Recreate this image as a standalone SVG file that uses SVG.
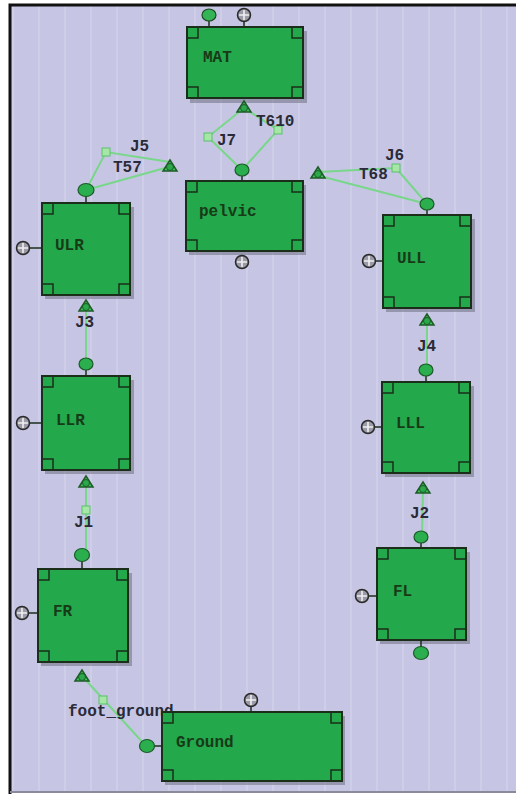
<svg xmlns="http://www.w3.org/2000/svg" width="516" height="794" viewBox="0 0 516 794">
<defs>
<pattern id="grid" x="0" y="0" width="26" height="794" patternUnits="userSpaceOnUse">
<rect x="0" y="0" width="26" height="794" fill="#c6c6e4"/>
<rect x="12" y="0" width="2" height="794" fill="#d2d2ec" opacity="0.7"/>
</pattern>
<g id="plus"><circle r="6.5" fill="#9a9aa8" stroke="#2a2a2a" stroke-width="1.5"/><path d="M-5 0H5M0 -5V5" stroke="#f0f0f0" stroke-width="1.6"/></g>
<g id="jg"><path d="M-7 5 L0 -6 L7 5 Z" fill="#3cc85a" stroke="#1e5a28" stroke-width="1.5"/><circle cy="1" r="3.5" fill="#2aa84a" stroke="#1e5a28"/></g>
</defs>
<style>
.bx{fill:#23a84c;stroke:#1a2e1a;stroke-width:2}
.sh{fill:#6f6f82;opacity:0.55}
.cn{fill:#35b457;stroke:#1e4a24;stroke-width:1.2}
.pt{fill:#2aae4e;stroke:#1c5a28;stroke-width:1.2}
.nt{font-family:"Liberation Mono","Courier New",monospace;font-weight:bold;font-size:16px;fill:#173a17}
.lb{font-family:"Liberation Mono","Courier New",monospace;font-weight:bold;font-size:16px;fill:#2a2a38}
.ln{stroke:#79d68a;stroke-width:2;fill:none}
.sq{fill:#a6e6a6;stroke:#5cbf6c;stroke-width:1}
.st{stroke:#1a2e1a;stroke-width:1.5}
</style>
<rect width="516" height="794" fill="#ffffff"/>
<rect x="10" y="5" width="506" height="787" fill="url(#grid)"/>
<path d="M10 794V5H516" stroke="#111" stroke-width="3" fill="none"/>
<line x1="10" y1="792" x2="516" y2="792" stroke="#8a8a9a" stroke-width="2"/>

<g id="connectors">
<path class="ln" d="M242 170 L208 137 L244 108"/>
<path class="ln" d="M242 170 L278 130 L244 108"/>
<path class="ln" d="M86 190 L106 152 L170 162"/>
<path class="ln" d="M86 190 L165 168"/>
<path class="ln" d="M427 204 L396 168 L318 172"/>
<path class="ln" d="M427 204 L320 176"/>
<path class="ln" d="M86 306 L86 361"/>
<path class="ln" d="M427 320 L427 370"/>
<path class="ln" d="M86 482 L86 556"/>
<path class="ln" d="M423 488 L422 537"/>
<path class="ln" d="M82 676 L146 746"/>
<rect class="sq" x="204" y="133" width="8" height="8"/>
<rect class="sq" x="274" y="126" width="8" height="8"/>
<rect class="sq" x="102" y="148" width="8" height="8"/>
<rect class="sq" x="392" y="164" width="8" height="8"/>
<rect class="sq" x="82" y="506" width="8" height="8"/>
<rect class="sq" x="99" y="696" width="8" height="8"/>
<text class="lb" x="217" y="145">J7</text>
<text class="lb" x="256" y="126">T610</text>
<text class="lb" x="130" y="151">J5</text>
<text class="lb" x="113" y="172">T57</text>
<text class="lb" x="385" y="160">J6</text>
<text class="lb" x="359" y="179">T68</text>
<text class="lb" x="75" y="327">J3</text>
<text class="lb" x="417" y="351">J4</text>
<text class="lb" x="74" y="527">J1</text>
<text class="lb" x="410" y="518">J2</text>
<text class="lb" x="68" y="716">foot_ground</text>
</g>

<g id="MAT">
<rect class="sh" x="190" y="31" width="117" height="72"/>
<line class="st" x1="209" y1="20" x2="209" y2="27"/><line class="st" x1="244" y1="20" x2="244" y2="27"/>
<rect class="bx" x="187" y="27" width="116" height="71"/>
<path class="st" d="M188 38h10v-10M302 38h-10v-10M188 87h10v10M302 87h-10v10" fill="none"/>
<ellipse class="cn" cx="209" cy="15" rx="7" ry="6"/>
<use href="#plus" x="244" y="15"/>
<use href="#jg" x="244" y="107"/>
<text class="nt" x="203" y="62">MAT</text>
</g>

<g id="pelvic">
<rect class="sh" x="189" y="185" width="117" height="70"/>
<rect class="bx" x="186" y="181" width="117" height="70"/>
<path class="st" d="M187 192h10v-10M302 192h-10v-10M187 240h10v10M302 240h-10v10" fill="none"/>
<line class="st" x1="242" y1="176" x2="242" y2="181"/>
<ellipse class="pt" cx="242" cy="170" rx="7" ry="6"/>
<use href="#plus" x="242" y="262"/>
<use href="#jg" x="170" y="166"/>
<use href="#jg" x="318" y="173"/>
<text class="nt" x="199" y="216">pelvic</text>
</g>

<g id="ULR">
<rect class="sh" x="45" y="207" width="89" height="92"/>
<rect class="bx" x="42" y="203" width="88" height="92"/>
<path class="st" d="M43 214h10v-10M129 214h-10v-10M43 284h10v10M129 284h-10v10" fill="none"/>
<line class="st" x1="86" y1="196" x2="86" y2="203"/>
<ellipse class="pt" cx="86" cy="190" rx="8" ry="6.5"/>
<line class="st" x1="30" y1="248" x2="42" y2="248"/>
<use href="#plus" x="23" y="248"/>
<use href="#jg" x="86" y="306"/>
<text class="nt" x="55" y="250">ULR</text>
</g>

<g id="ULL">
<rect class="sh" x="386" y="219" width="89" height="93"/>
<rect class="bx" x="383" y="215" width="88" height="93"/>
<path class="st" d="M384 226h10v-10M470 226h-10v-10M384 297h10v10M470 297h-10v10" fill="none"/>
<line class="st" x1="427" y1="210" x2="427" y2="215"/>
<ellipse class="pt" cx="427" cy="204" rx="7" ry="6"/>
<line class="st" x1="376" y1="261" x2="383" y2="261"/>
<use href="#plus" x="369" y="261"/>
<use href="#jg" x="427" y="320"/>
<text class="nt" x="397" y="263">ULL</text>
</g>

<g id="LLR">
<rect class="sh" x="45" y="380" width="89" height="94"/>
<rect class="bx" x="42" y="376" width="88" height="94"/>
<path class="st" d="M43 387h10v-10M129 387h-10v-10M43 459h10v10M129 459h-10v10" fill="none"/>
<line class="st" x1="86" y1="370" x2="86" y2="376"/>
<ellipse class="pt" cx="86" cy="364" rx="7" ry="6"/>
<line class="st" x1="30" y1="423" x2="42" y2="423"/>
<use href="#plus" x="23" y="423"/>
<use href="#jg" x="86" y="482"/>
<text class="nt" x="56" y="425">LLR</text>
</g>

<g id="LLL">
<rect class="sh" x="385" y="386" width="89" height="91"/>
<rect class="bx" x="382" y="382" width="88" height="91"/>
<path class="st" d="M383 393h10v-10M469 393h-10v-10M383 462h10v10M469 462h-10v10" fill="none"/>
<line class="st" x1="426" y1="376" x2="426" y2="382"/>
<ellipse class="pt" cx="426" cy="370" rx="7" ry="6"/>
<line class="st" x1="375" y1="427" x2="382" y2="427"/>
<use href="#plus" x="368" y="427"/>
<use href="#jg" x="423" y="488"/>
<text class="nt" x="396" y="428">LLL</text>
</g>

<g id="FR">
<rect class="sh" x="41" y="573" width="91" height="93"/>
<rect class="bx" x="38" y="569" width="90" height="93"/>
<path class="st" d="M39 580h10v-10M127 580h-10v-10M39 651h10v10M127 651h-10v10" fill="none"/>
<line class="st" x1="82" y1="561" x2="82" y2="569"/>
<ellipse class="pt" cx="82" cy="555" rx="7.5" ry="6.5"/>
<line class="st" x1="29" y1="613" x2="38" y2="613"/>
<use href="#plus" x="22" y="613"/>
<use href="#jg" x="82" y="676"/>
<text class="nt" x="53" y="616">FR</text>
</g>

<g id="FL">
<rect class="sh" x="380" y="552" width="90" height="92"/>
<rect class="bx" x="377" y="548" width="89" height="92"/>
<path class="st" d="M378 559h10v-10M465 559h-10v-10M378 629h10v10M465 629h-10v10" fill="none"/>
<line class="st" x1="421" y1="543" x2="421" y2="548"/>
<ellipse class="pt" cx="421" cy="537" rx="7" ry="6"/>
<line class="st" x1="421" y1="640" x2="421" y2="647"/>
<ellipse class="pt" cx="421" cy="653" rx="7.5" ry="6.5"/>
<line class="st" x1="368" y1="596" x2="377" y2="596"/>
<use href="#plus" x="362" y="596"/>
<text class="nt" x="393" y="596">FL</text>
</g>

<g id="Ground">
<rect class="sh" x="165" y="716" width="180" height="69"/>
<rect class="bx" x="162" y="712" width="180" height="69"/>
<path class="st" d="M163 723h10v-10M341 723h-10v-10M163 770h10v10M341 770h-10v10" fill="none"/>
<line class="st" x1="251" y1="706" x2="251" y2="712"/>
<use href="#plus" x="251" y="700"/>
<line class="st" x1="153" y1="746" x2="162" y2="746"/>
<ellipse class="pt" cx="147" cy="746" rx="7.5" ry="6.5"/>
<text class="nt" x="176" y="747">Ground</text>
</g>
</svg>
